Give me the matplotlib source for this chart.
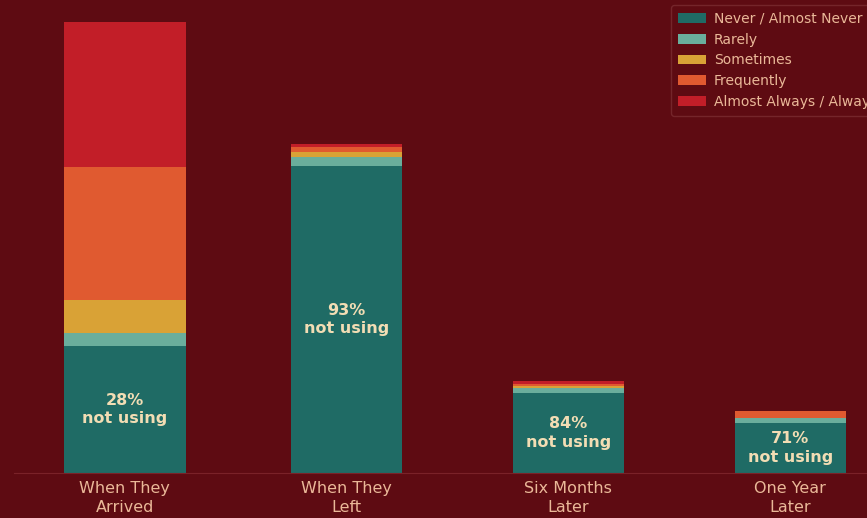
import matplotlib
matplotlib.use("Agg")
from matplotlib import pyplot as plt
from matplotlib.patches import Patch
import numpy as np

stages = ["When They\nArrived", "When They\nLeft", "Six Months\nLater", "One Year\nLater"]
never = [28.2, 68.0, 17.7, 11.0]
rarely = [2.9, 2.0, 1.1, 1.1]
sometimes = [7.3, 1.3, 0.45, 0.0]
frequently = [29.5, 0.9, 0.45, 1.75]
always = [32.2, 0.7, 0.65, 0.0]
not_using_pct = [28, 93, 84, 71]

categories = ["Never / Almost Never", "Rarely", "Sometimes", "Frequently", "Almost Always / Always"]
colors = ["#1f6b65", "#6aae9c", "#d9a236", "#e05a30", "#c21e28"]

BG = "#5e0b12"
TEXT = "#f2ddb4"
TICK = "#eab898"


def draw_chart():
    fig = plt.figure(figsize=(8.67, 5.18), dpi=100)
    fig.patch.set_facecolor(BG)
    ax = fig.add_axes([14 / 867, 1 - 473 / 518, 887 / 867, 473 / 518])
    ax.set_facecolor(BG)

    x = np.arange(len(stages))
    widths = [0.55, 0.5, 0.5, 0.5]
    bottom = np.zeros(len(stages))
    for values, color in zip([never, rarely, sometimes, frequently, always], colors):
        ax.bar(x, values, width=widths, bottom=bottom, color=color, linewidth=0)
        bottom += np.array(values)

    for xi, n, pct in zip(x, never, not_using_pct):
        ax.text(xi, n / 2, f"{pct}%\nnot using", ha="center", va="center",
                color=TEXT, fontsize=11.5, fontweight="bold", linespacing=1.3)

    ax.set_xlim(-0.5, 3.5)
    ax.set_ylim(0, 104.9)
    ax.set_xticks(x)
    ax.set_xticklabels(stages, color=TICK, fontsize=11.5, linespacing=1.3)
    ax.tick_params(axis="x", length=0, pad=6)
    ax.set_yticks([])
    for side in ["top", "left", "right"]:
        ax.spines[side].set_visible(False)
    ax.spines["bottom"].set_color("#7a2228")
    ax.spines["bottom"].set_linewidth(0.8)

    handles = [Patch(facecolor=c, label=l) for c, l in zip(colors, categories)]
    leg = fig.legend(handles=handles, loc="upper left",
                     bbox_to_anchor=(671 / 867, 1 - 5 / 518), borderaxespad=0,
                     frameon=True, fontsize=10, handlelength=2.0, handleheight=0.7,
                     labelspacing=0.48, borderpad=0.5, handletextpad=0.6)
    leg.get_frame().set_facecolor(BG)
    leg.get_frame().set_edgecolor("#74252a")
    leg.get_frame().set_alpha(1)
    for t in leg.get_texts():
        t.set_color(TICK)

    fig.savefig("out.png", dpi=100, facecolor=BG)


if __name__ == "__main__":
    draw_chart()
